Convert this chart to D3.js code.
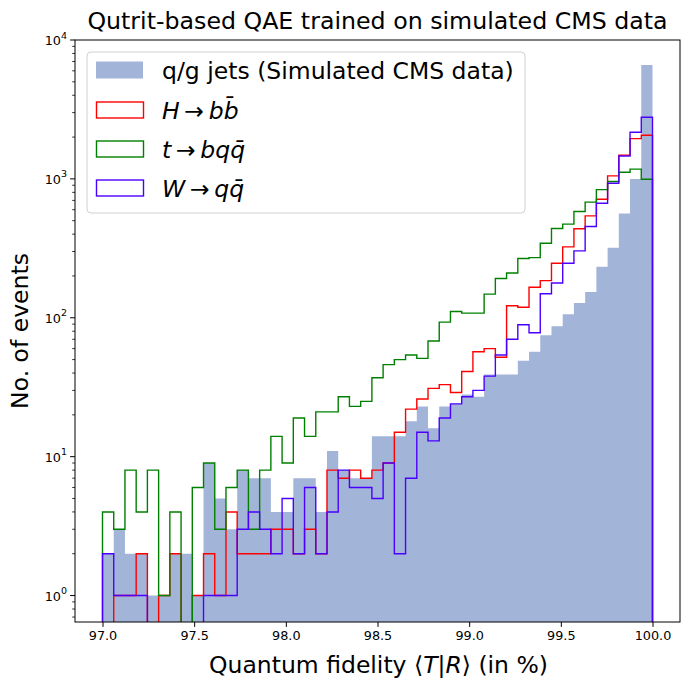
<!DOCTYPE html>
<html>
<head>
<meta charset="utf-8">
<script src="https://cdn.jsdelivr.net/npm/d3@7"></script>
<style>
  html, body { margin: 0; padding: 0; background: #fff; }
  svg { display: block; font-family: "DejaVu Sans", sans-serif; }
</style>
</head>
<body>
<svg id="chart" width="690" height="690"></svg>
<script>
// ---- data ----
const binStart = 97.0;
const binEnd = 100.0;
const nBins = 49;

const qgJets = [2, 3, 2, 2, 1, 1, 2, 2, 1, 9, 5, 3, 8, 7, 7, 4, 4, 7, 7, 4,
  11, 8, 7, 7, 14, 14, 14, 18, 23, 16, 23, 24, 28, 27, 39, 39, 39, 49, 57, 75,
  87, 106, 128, 153, 233, 319, 563, 1000, 6600];

const hbb = [0, 1, 1, 2, 0, 1, 2, 0, 1, 2, 1, 4, 2, 2, 2, 3, 3, 2, 3, 2,
  8, 7, 8, 7, 8, 9, 15, 22, 26, 31, 33, 29, 41, 57, 60, 52, 122, 119, 166, 185,
  247, 324, 437, 542, 714, 1051, 1480, 1950, 2060];

const tbqq = [4, 3, 8, 4, 8, 1, 4, 0, 6, 9, 3, 6, 8, 3, 8, 14, 9, 19, 14, 21,
  21, 27, 23, 25, 37, 46, 50, 54, 51, 68, 93, 111, 108, 108, 148, 192, 210, 267, 271, 344,
  439, 472, 582, 680, 837, 957, 1117, 1175, 995];

const wqq = [2, 1, 1, 1, 0, 0, 0, 0, 0, 1, 1, 1, 3, 4, 3, 2, 5, 2, 6, 2,
  4, 8, 6, 6, 5, 9, 2, 7, 15, 13, 19, 24, 27, 30, 38, 54, 70, 89, 78, 149,
  178, 247, 303, 454, 668, 931, 1463, 2168, 2781];

const xTicks = [97.0, 97.5, 98.0, 98.5, 99.0, 99.5, 100.0];
const yTicks = [1, 10, 100, 1000, 10000];

const titleText = "Qutrit-based QAE trained on simulated CMS data";
const xLabel = "Quantum fidelity";
const yLabel = "No. of events";

// ---- layout ----
const svg = d3.select("#chart");
const L = 75, R = 680, T = 40, B = 622;

const x = d3.scaleLinear().domain([96.85, 100.15]).range([L, R]);
const y = d3.scaleLog().domain([0.645, 10000]).range([B, T]);

const edges = d3.range(nBins + 1).map(i => binStart + i * (binEnd - binStart) / nBins);

const defs = svg.append("defs");
defs.append("clipPath").attr("id", "plotclip")
  .append("rect").attr("x", L).attr("y", T).attr("width", R - L).attr("height", B - T);

const yv = v => v > 0 ? y(v) : B + 60;

function areaPath(vals) {
  let p = `M${x(edges[0])},${B + 60}`;
  vals.forEach((v, i) => {
    p += `L${x(edges[i])},${yv(v)}L${x(edges[i + 1])},${yv(v)}`;
  });
  p += `L${x(edges[nBins])},${B + 60}Z`;
  return p;
}
function stepPath(vals) {
  let p = `M${x(edges[0])},${B + 60}`;
  vals.forEach((v, i) => {
    p += `L${x(edges[i])},${yv(v)}L${x(edges[i + 1])},${yv(v)}`;
  });
  p += `L${x(edges[nBins])},${B + 60}`;
  return p;
}

const plot = svg.append("g").attr("clip-path", "url(#plotclip)");
plot.append("path").attr("d", areaPath(qgJets)).attr("fill", "#a2b5d9").attr("stroke", "none");

const series = [
  { vals: hbb, color: "#ff0000" },
  { vals: tbqq, color: "#008000" },
  { vals: wqq, color: "#4b00ff" }
];
series.forEach(s => {
  plot.append("path").attr("d", stepPath(s.vals))
    .attr("fill", "none").attr("stroke", s.color).attr("stroke-width", 1.4)
    .attr("stroke-linejoin", "miter");
});

// ---- axes ----
const xAxis = d3.axisBottom(x).tickValues(xTicks).tickFormat(d3.format(".1f")).tickSize(4.9).tickPadding(4);
const gx = svg.append("g").attr("transform", `translate(0,${B})`).call(xAxis);
gx.select(".domain").remove();
gx.selectAll("text").attr("font-size", 12.8).attr("fill", "#000").attr("font-family", "DejaVu Sans");
gx.selectAll("line").attr("stroke", "#000").attr("stroke-width", 1);

const gy = svg.append("g").attr("transform", `translate(${L},0)`);
const minor = [];
for (let e = -1; e < 4; e++) for (let k = 2; k <= 9; k++) {
  const v = k * Math.pow(10, e);
  if (v >= 0.645 && v <= 10000) minor.push(v);
}
gy.selectAll("line.minor").data(minor).join("line")
  .attr("x1", -2.8).attr("x2", 0).attr("y1", d => y(d)).attr("y2", d => y(d))
  .attr("stroke", "#000").attr("stroke-width", 0.8);
gy.selectAll("line.major").data(yTicks).join("line")
  .attr("x1", -4.9).attr("x2", 0).attr("y1", d => y(d)).attr("y2", d => y(d))
  .attr("stroke", "#000").attr("stroke-width", 1);
const yt = gy.selectAll("text.tl").data(yTicks).join("text")
  .attr("x", -8).attr("y", d => y(d) + 5)
  .attr("text-anchor", "end").attr("font-size", 12.8).attr("fill", "#000");
yt.append("tspan").text("10");
yt.append("tspan").attr("font-size", 9.5).attr("dy", -6.5).text(d => Math.round(Math.log10(d)));

svg.append("rect").attr("x", L).attr("y", T).attr("width", R - L).attr("height", B - T)
  .attr("fill", "none").attr("stroke", "#000").attr("stroke-width", 1);

// ---- labels ----
svg.append("text").attr("x", (L + R) / 2).attr("y", 29).attr("text-anchor", "middle")
  .attr("font-size", 23.7).attr("fill", "#000").text(titleText);

const xl = svg.append("text").attr("x", (L + R) / 2 + 1).attr("y", 673).attr("text-anchor", "middle")
  .attr("font-size", 23.5).attr("fill", "#000");
xl.append("tspan").text(xLabel + " \u27E8");
xl.append("tspan").attr("font-style", "italic").text("T");
xl.append("tspan").text("|");
xl.append("tspan").attr("font-style", "italic").text("R");
xl.append("tspan").text("\u27E9 (in %)");

svg.append("text").attr("transform", `translate(28,${(T + B) / 2}) rotate(-90)`)
  .attr("text-anchor", "middle").attr("font-size", 23.5).attr("fill", "#000").text(yLabel);

// ---- legend ----
const lg = svg.append("g");
lg.append("rect").attr("x", 87).attr("y", 52).attr("width", 438).attr("height", 161)
  .attr("rx", 4).attr("fill", "#fff").attr("fill-opacity", 0.8)
  .attr("stroke", "#d0d0d0").attr("stroke-width", 1);

const legendItems = [
  { type: "fill", color: "#a2b5d9", parts: [["q/g jets (Simulated CMS data)", false]] },
  { type: "line", color: "#ff0000", parts: [["H", true], ["\u2009\u2192\u2009", false], ["b", true], ["b\u0304", true]] },
  { type: "line", color: "#008000", parts: [["t", true], ["\u2009\u2192\u2009", false], ["bq", true], ["q\u0304", true]] },
  { type: "line", color: "#4b00ff", parts: [["W", true], ["\u2009\u2192\u2009", false], ["q", true], ["q\u0304", true]] }
];
const rowY = [70, 110, 149, 188];
legendItems.forEach((it, i) => {
  const cy = rowY[i];
  if (it.type === "fill") {
    lg.append("rect").attr("x", 96).attr("y", cy - 8.5).attr("width", 47).attr("height", 17)
      .attr("fill", it.color);
  } else {
    lg.append("rect").attr("x", 96.5).attr("y", cy - 8).attr("width", 47).attr("height", 16)
      .attr("fill", "none").attr("stroke", it.color).attr("stroke-width", 1.4);
  }
  const t = lg.append("text").attr("x", 162).attr("y", cy + 8.5)
    .attr("font-size", 23.5).attr("fill", "#000");
  it.parts.forEach(p => {
    t.append("tspan").attr("font-style", p[1] ? "italic" : "normal").text(p[0]);
  });
});
</script>
</body>
</html>
